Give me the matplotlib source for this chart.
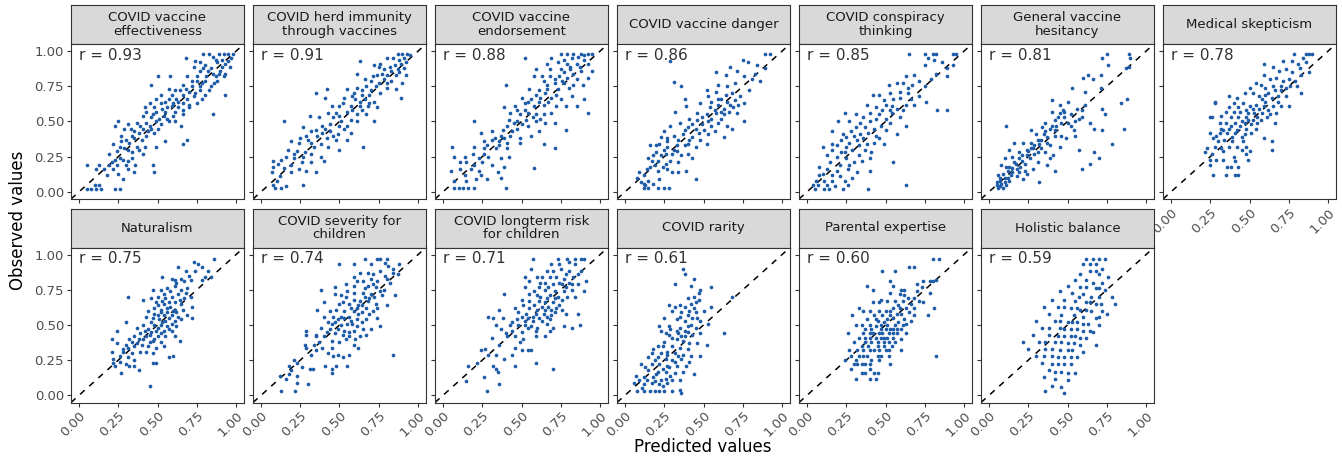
import numpy as np
import matplotlib.pyplot as plt

titles = ["COVID vaccine\neffectiveness", "COVID herd immunity\nthrough vaccines",
          "COVID vaccine\nendorsement", "COVID vaccine danger", "COVID conspiracy\nthinking",
          "General vaccine\nhesitancy", "Medical skepticism", "Naturalism",
          "COVID severity for\nchildren", "COVID longterm risk\nfor children", "COVID rarity",
          "Parental expertise", "Holistic balance"]
r_values = [0.93, 0.91, 0.88, 0.86, 0.85, 0.81, 0.78, 0.75, 0.74, 0.71, 0.61, 0.60, 0.59]
ticks = [0, 0.25, 0.5, 0.75, 1.0]
tick_labels = ["0.00", "0.25", "0.50", "0.75", "1.00"]

# (predicted, observed)
vaccine_effectiveness = [
    (.79,.98),(.83,.98),(.89,.98),(.92,.98),(.95,.98),(.98,.98),(.68,.95),(.74,.93),(.77,.92),(.87,.94),
    (.91,.94),(.97,.95),(.73,.89),(.79,.88),(.84,.88),(.91,.89),(.96,.89),(.77,.86),(.82,.86),(.89,.84),
    (.93,.84),(.50,.82),(.58,.82),(.69,.82),(.75,.82),(.81,.82),(.87,.82),(.92,.82),(.75,.79),(.80,.79),
    (.88,.79),(.46,.76),(.66,.76),(.72,.75),(.77,.75),(.84,.75),(.68,.73),(.57,.73),(.61,.72),(.77,.72),
    (.83,.72),(.93,.69),(.52,.69),(.59,.69),(.66,.69),(.73,.68),(.49,.66),(.57,.66),(.62,.66),(.69,.66),
    (.78,.66),(.45,.63),(.52,.63),(.60,.63),(.66,.63),(.75,.63),(.42,.60),(.48,.60),(.56,.60),(.63,.60),
    (.70,.60),(.43,.57),(.49,.57),(.55,.57),(.61,.57),(.66,.55),(.85,.55),(.41,.54),(.46,.53),(.54,.54),
    (.60,.54),(.25,.50),(.23,.47),(.31,.48),(.37,.49),(.43,.49),(.49,.50),(.57,.50),(.61,.50),(.65,.47),
    (.29,.45),(.35,.43),(.41,.45),(.46,.45),(.50,.45),(.27,.40),(.34,.40),(.43,.40),(.48,.42),(.22,.34),
    (.27,.36),(.32,.35),(.37,.32),(.42,.32),(.49,.32),(.55,.36),(.66,.34),(.69,.37),(.24,.29),(.29,.31),
    (.34,.28),(.41,.27),(.19,.27),(.23,.23),(.28,.23),(.34,.24),(.13,.19),(.19,.19),(.24,.19),(.30,.19),
    (.36,.19),(.47,.19),(.11,.16),(.22,.16),(.31,.16),(.35,.14),(.48,.14),(.05,.19),(.28,.09),(.05,.02),
    (.08,.02),(.11,.02),(.14,.02),(.23,.02),(.26,.02),(.10,.05),(.13,.05),
    (.85,.96),(.88,.92),(.93,.91),(.95,.93),(.80,.90),(.85,.84),(.90,.86),(.72,.79),(.78,.77),(.86,.77),
    (.64,.72),(.70,.71),(.74,.70),(.80,.69),(.55,.64),(.63,.64),(.70,.62),(.53,.59),(.59,.61),(.66,.58),
    (.47,.55),(.51,.52),(.56,.52),(.39,.47),(.45,.47),(.52,.48),(.33,.45),(.38,.42),(.44,.43),(.30,.37),
    (.35,.38),(.40,.37),(.26,.32),(.31,.30),(.38,.30),(.21,.21),(.26,.24),(.31,.22),(.16,.16),(.18,.12),
    (.25,.13)]
herd_immunity = [
    (.87,.98),(.90,.98),(.93,.98),(.95,.97),(.63,.93),(.72,.90),(.76,.91),(.80,.95),(.85,.90),(.89,.91),
    (.92,.92),(.75,.89),(.78,.87),(.82,.89),(.87,.87),(.91,.88),(.61,.84),(.74,.83),(.80,.83),(.86,.83),
    (.92,.83),(.66,.80),(.70,.79),(.78,.80),(.83,.79),(.90,.77),(.55,.73),(.61,.74),(.67,.75),(.73,.75),
    (.80,.74),(.86,.73),(.35,.70),(.42,.73),(.59,.70),(.64,.69),(.69,.69),(.76,.70),(.89,.67),(.41,.67),
    (.53,.67),(.60,.66),(.66,.66),(.72,.64),(.45,.61),(.50,.61),(.57,.61),(.63,.61),(.68,.61),(.74,.60),
    (.48,.56),(.55,.57),(.61,.55),(.67,.55),(.72,.50),(.31,.54),(.37,.53),(.46,.53),(.50,.54),(.57,.51),
    (.61,.50),(.15,.50),(.39,.47),(.44,.48),(.50,.47),(.55,.47),(.27,.46),(.32,.43),(.39,.42),(.44,.43),
    (.49,.41),(.57,.42),(.29,.40),(.36,.40),(.42,.38),(.48,.37),(.55,.37),(.19,.36),(.24,.35),(.32,.35),
    (.38,.34),(.43,.32),(.50,.30),(.65,.32),(.17,.30),(.23,.29),(.28,.28),(.32,.27),(.38,.25),(.08,.22),
    (.13,.23),(.21,.24),(.26,.21),(.32,.21),(.40,.22),(.08,.18),(.19,.19),(.24,.16),(.29,.15),(.35,.14),
    (.07,.14),(.12,.11),(.19,.14),(.27,.05),(.08,.05),(.09,.03),(.13,.03),(.16,.04),
    (.84,.95),(.88,.94),(.91,.95),(.83,.86),(.88,.85),(.77,.84),(.71,.82),(.75,.77),(.80,.77),(.64,.72),
    (.70,.72),(.58,.68),(.63,.64),(.69,.63),(.52,.63),(.58,.58),(.64,.58),(.43,.56),(.51,.50),(.53,.45),
    (.35,.44),(.41,.45),(.46,.40),(.25,.38),(.30,.37),(.34,.32),(.21,.27),(.27,.25),(.16,.25),(.11,.20),
    (.15,.17),(.10,.08)]
vaccine_endorsement = [
    (.75,.98),(.79,.98),(.83,.98),(.88,.98),(.92,.98),(.95,.98),(.52,.95),(.69,.95),(.77,.94),(.82,.95),
    (.90,.94),(.66,.91),(.73,.92),(.79,.91),(.85,.91),(.92,.91),(.59,.87),(.68,.87),(.75,.87),(.81,.87),
    (.88,.86),(.95,.86),(.58,.82),(.63,.82),(.68,.82),(.74,.82),(.79,.81),(.85,.80),(.92,.81),(.40,.76),
    (.64,.79),(.71,.77),(.77,.77),(.83,.76),(.89,.76),(.55,.73),(.61,.72),(.66,.73),(.73,.73),(.50,.67),
    (.56,.66),(.62,.67),(.69,.67),(.75,.66),(.82,.68),(.90,.66),(.39,.60),(.46,.61),(.52,.63),(.58,.61),
    (.64,.62),(.72,.61),(.78,.61),(.85,.61),(.43,.56),(.49,.55),(.54,.56),(.59,.55),(.64,.55),(.69,.56),
    (.92,.56),(.42,.51),(.47,.50),(.53,.51),(.59,.50),(.65,.49),(.71,.49),(.20,.50),(.41,.47),(.47,.45),
    (.54,.47),(.61,.43),(.78,.44),(.24,.42),(.31,.43),(.37,.40),(.43,.40),(.49,.38),(.56,.40),(.26,.36),
    (.31,.37),(.36,.36),(.41,.35),(.49,.35),(.64,.34),(.71,.31),(.06,.32),(.20,.32),(.26,.31),(.34,.31),
    (.41,.31),(.07,.25),(.14,.25),(.23,.24),(.29,.25),(.37,.24),(.42,.25),(.15,.21),(.25,.21),(.31,.19),
    (.39,.18),(.05,.15),(.11,.16),(.18,.16),(.23,.15),(.35,.14),(.58,.17),(.07,.08),(.15,.08),(.21,.09),
    (.28,.09),(.37,.10),(.07,.03),(.10,.03),(.13,.03),(.16,.03),(.20,.03),(.40,.03),
    (.86,.96),(.90,.97),(.81,.89),(.87,.89),(.77,.85),(.83,.84),(.71,.80),(.76,.79),(.66,.76),(.80,.74),
    (.59,.69),(.65,.70),(.72,.69),(.54,.64),(.61,.64),(.67,.64),(.47,.58),(.52,.58),(.57,.53),(.62,.52),
    (.45,.49),(.50,.48),(.38,.44),(.44,.43),(.33,.38),(.39,.38),(.28,.33),(.36,.33),(.19,.27),(.26,.27),
    (.11,.21),(.20,.19),(.14,.12),(.24,.12)]
vaccine_danger = [
    (.89,.98),(.92,.98),(.75,.94),(.29,.93),(.78,.92),(.67,.89),(.84,.90),(.89,.88),(.58,.85),(.64,.83),
    (.71,.86),(.76,.82),(.81,.80),(.86,.79),(.31,.78),(.36,.75),(.59,.76),(.65,.75),(.70,.77),(.52,.72),
    (.58,.71),(.64,.69),(.68,.70),(.38,.66),(.53,.68),(.59,.66),(.65,.64),(.70,.65),(.76,.63),(.48,.63),
    (.54,.60),(.59,.62),(.63,.59),(.69,.60),(.39,.61),(.32,.57),(.46,.56),(.52,.55),(.58,.56),(.63,.55),
    (.71,.56),(.76,.50),(.41,.52),(.46,.51),(.53,.50),(.59,.49),(.65,.47),(.35,.49),(.29,.47),(.40,.46),
    (.45,.45),(.50,.44),(.57,.43),(.68,.45),(.63,.39),(.25,.43),(.31,.40),(.37,.41),(.43,.39),(.48,.37),
    (.52,.34),(.23,.39),(.16,.33),(.22,.34),(.27,.32),(.33,.33),(.40,.34),(.45,.32),(.20,.28),(.26,.27),
    (.30,.27),(.36,.26),(.40,.27),(.15,.24),(.21,.22),(.29,.22),(.34,.21),(.43,.24),(.19,.19),(.24,.18),
    (.30,.14),(.34,.14),(.39,.15),(.09,.14),(.12,.12),(.15,.08),(.22,.09),(.45,.09),(.12,.06),(.12,.03),
    (.15,.03),(.21,.03),(.25,.03),(.28,.03),(.13,.05),(.08,.10),(.38,.33),(.16,.18),(.27,.36),
    (.55,.64),(.61,.66),(.67,.62),(.72,.62),(.57,.58),(.61,.57),(.66,.57),(.49,.53),(.55,.52),(.61,.52),
    (.43,.48),(.49,.48),(.55,.47),(.38,.44),(.47,.42),(.53,.41),(.27,.38),(.34,.37),(.41,.37),(.20,.33),
    (.25,.30),(.31,.30),(.18,.26),(.23,.26),(.33,.29),(.17,.22),(.26,.20),(.14,.16),(.21,.15),(.27,.16),
    (.10,.07),(.18,.06),(.73,.68),(.79,.72),(.83,.84)]
conspiracy_thinking = [
    (.65,.98),(.75,.98),(.80,.98),(.82,.98),(.93,.98),(.95,.98),(.77,.95),(.81,.94),(.75,.90),(.89,.88),
    (.93,.90),(.82,.84),(.89,.82),(.63,.82),(.68,.83),(.57,.77),(.61,.77),(.67,.76),(.75,.75),(.79,.80),
    (.52,.76),(.46,.69),(.53,.70),(.59,.71),(.64,.70),(.71,.68),(.42,.69),(.76,.64),(.49,.65),(.55,.66),
    (.38,.62),(.44,.60),(.50,.62),(.57,.59),(.63,.62),(.68,.62),(.24,.56),(.31,.55),(.40,.56),(.46,.55),
    (.54,.56),(.59,.53),(.83,.58),(.89,.58),(.20,.50),(.27,.50),(.34,.49),(.40,.50),(.47,.47),(.53,.49),
    (.63,.47),(.16,.43),(.23,.41),(.28,.43),(.34,.41),(.39,.42),(.44,.40),(.57,.41),(.22,.37),(.27,.35),
    (.32,.37),(.38,.34),(.43,.35),(.49,.34),(.10,.32),(.16,.30),(.22,.28),(.29,.30),(.37,.30),(.41,.28),
    (.19,.25),(.25,.24),(.30,.21),(.35,.22),(.40,.24),(.55,.21),(.08,.18),(.13,.16),(.19,.15),(.26,.16),
    (.32,.14),(.40,.15),(.10,.13),(.16,.12),(.06,.08),(.11,.08),(.16,.08),(.24,.08),(.29,.10),(.04,.05),
    (.07,.05),(.11,.02),(.14,.02),(.23,.02),(.39,.02),(.63,.05),(.05,.02),(.16,.34),(.53,.58),
    (.86,.92),(.71,.79),(.64,.74),(.59,.67),(.66,.66),(.48,.58),(.54,.61),(.61,.58),(.36,.53),(.44,.52),
    (.50,.52),(.31,.46),(.37,.46),(.43,.45),(.50,.44),(.25,.39),(.30,.40),(.36,.38),(.46,.38),(.19,.33),
    (.25,.32),(.33,.33),(.13,.26),(.24,.28),(.33,.26),(.15,.21),(.21,.19),(.27,.19),(.08,.12),(.21,.11),
    (.13,.05),(.18,.04),(.26,.05)]
vaccine_hesitancy = [
    (.75,.98),(.89,.98),(.72,.95),(.90,.95),(.76,.90),(.87,.88),(.89,.89),(.63,.83),(.71,.83),(.60,.81),
    (.66,.80),(.53,.74),(.61,.71),(.71,.74),(.40,.65),(.50,.64),(.84,.63),(.88,.66),(.56,.59),(.59,.58),
    (.72,.59),(.74,.55),(.40,.57),(.45,.56),(.48,.53),(.42,.51),(.46,.49),(.52,.47),(.11,.47),(.34,.46),
    (.39,.45),(.64,.49),(.59,.53),(.67,.45),(.72,.44),(.86,.45),(.27,.44),(.30,.41),(.37,.39),(.42,.40),
    (.49,.38),(.55,.40),(.78,.34),(.16,.35),(.22,.35),(.27,.35),(.32,.34),(.39,.33),(.45,.32),(.57,.30),
    (.13,.30),(.19,.28),(.24,.30),(.29,.27),(.36,.28),(.41,.26),(.67,.28),(.70,.24),(.10,.24),(.15,.25),
    (.21,.22),(.26,.24),(.31,.21),(.37,.19),(.64,.20),(.08,.19),(.13,.18),(.18,.16),(.23,.15),(.28,.16),
    (.42,.15),(.59,.16),(.06,.12),(.10,.10),(.14,.12),(.22,.09),(.32,.07),(.05,.07),(.08,.06),(.11,.05),
    (.06,.03),(.09,.03),(.19,.14),(.45,.62),(.57,.52),(.07,.08),(.13,.08),(.05,.05),(.07,.04),(.10,.07),
    (.12,.10),(.15,.14),(.17,.20),(.20,.18),(.24,.26),(.28,.31),(.33,.37),(.36,.43),(.43,.47),(.47,.58),
    (.07,.10),(.09,.13),(.12,.15),(.15,.17),(.16,.21),(.19,.24),(.21,.26),(.23,.20),(.25,.29),(.27,.31),
    (.29,.33),(.31,.37),(.33,.31),(.35,.41),(.37,.35),(.40,.47),(.42,.44),(.44,.53),(.46,.40),(.48,.57),
    (.50,.49),(.52,.55),(.54,.44),(.36,.49),(.31,.28),(.18,.11),(.11,.18),(.24,.13),(.39,.24),(.61,.62),
    (.55,.50)]
medical_skepticism = [
    (.78,.98),(.86,.98),(.88,.98),(.90,.98),(.84,.95),(.71,.93),(.77,.93),(.81,.91),(.86,.92),(.88,.85),
    (.59,.91),(.65,.89),(.69,.86),(.73,.87),(.77,.85),(.83,.83),(.59,.83),(.63,.80),(.67,.81),(.71,.79),
    (.75,.80),(.54,.77),(.57,.76),(.60,.74),(.65,.75),(.70,.75),(.76,.75),(.80,.75),(.83,.70),(.50,.74),
    (.47,.70),(.52,.70),(.56,.68),(.60,.69),(.64,.67),(.68,.68),(.73,.68),(.37,.68),(.42,.67),(.28,.63),
    (.40,.63),(.46,.63),(.50,.61),(.54,.62),(.59,.61),(.65,.61),(.70,.61),(.75,.61),(.35,.57),(.40,.57),
    (.44,.57),(.49,.56),(.53,.56),(.58,.56),(.63,.55),(.67,.56),(.26,.53),(.32,.54),(.38,.53),(.43,.53),
    (.48,.53),(.52,.51),(.57,.51),(.66,.49),(.35,.49),(.41,.49),(.47,.49),(.51,.48),(.32,.45),(.37,.45),
    (.42,.44),(.48,.45),(.54,.45),(.25,.42),(.31,.42),(.36,.42),(.41,.42),(.47,.41),(.51,.42),(.59,.38),
    (.64,.36),(.27,.38),(.30,.36),(.34,.37),(.39,.36),(.46,.36),(.64,.30),(.28,.32),(.32,.31),(.37,.32),
    (.42,.32),(.48,.32),(.50,.29),(.22,.28),(.26,.27),(.40,.25),(.48,.27),(.25,.23),(.29,.23),(.33,.23),
    (.41,.22),(.49,.23),(.25,.19),(.36,.18),(.38,.18),(.43,.18),(.27,.12),(.35,.12),(.41,.12),(.43,.12),
    (.28,.64),(.25,.53),
    (.48,.58),(.52,.59),(.56,.59),(.60,.64),(.62,.70),(.66,.72),(.70,.72),(.58,.66),(.45,.50),(.49,.51),
    (.55,.53),(.61,.53),(.44,.47),(.38,.47),(.33,.44),(.45,.39),(.39,.39),(.29,.40),(.55,.49),(.62,.58),
    (.68,.64),(.73,.74),(.79,.79),(.82,.88),(.43,.60),(.37,.60),(.31,.49),(.23,.31),(.33,.29),(.45,.30)]
naturalism = [
    (.86,.97),(.73,.95),(.76,.93),(.78,.91),(.74,.88),(.82,.88),(.84,.84),(.63,.91),(.68,.88),(.70,.85),
    (.65,.83),(.67,.81),(.71,.82),(.53,.84),(.59,.83),(.61,.82),(.78,.82),(.80,.84),(.47,.75),(.52,.75),
    (.56,.76),(.61,.78),(.65,.75),(.69,.76),(.31,.70),(.41,.68),(.46,.69),(.50,.70),(.54,.72),(.59,.70),
    (.63,.72),(.67,.69),(.71,.70),(.49,.66),(.53,.67),(.57,.66),(.61,.66),(.65,.65),(.72,.63),(.48,.62),
    (.52,.61),(.56,.62),(.61,.61),(.66,.61),(.44,.60),(.50,.57),(.54,.57),(.59,.57),(.63,.56),(.69,.57),
    (.47,.55),(.51,.54),(.55,.53),(.61,.53),(.65,.54),(.30,.52),(.43,.56),(.41,.50),(.48,.50),(.52,.50),
    (.56,.49),(.62,.49),(.72,.55),(.37,.48),(.44,.47),(.49,.46),(.54,.46),(.59,.46),(.24,.46),(.39,.44),
    (.45,.43),(.50,.42),(.55,.42),(.61,.42),(.64,.39),(.32,.40),(.35,.42),(.41,.40),(.47,.39),(.52,.38),
    (.21,.40),(.24,.37),(.30,.36),(.37,.37),(.44,.35),(.49,.34),(.54,.35),(.31,.34),(.35,.35),(.43,.31),
    (.47,.30),(.21,.31),(.28,.31),(.34,.30),(.39,.31),(.60,.28),(.57,.27),(.22,.26),(.26,.28),(.31,.27),
    (.35,.25),(.22,.23),(.30,.22),(.35,.21),(.47,.23),(.49,.23),(.23,.21),(.27,.16),(.38,.18),(.45,.07),
    (.32,.21),
    (.50,.64),(.54,.65),(.58,.63),(.52,.59),(.56,.59),(.60,.60),(.48,.58),(.57,.55),(.53,.52),(.59,.51),
    (.46,.52),(.50,.48),(.57,.47),(.46,.45),(.52,.44),(.43,.42),(.48,.40),(.40,.36),(.45,.38),(.62,.59),
    (.64,.68),(.58,.74),(.62,.80),(.68,.73),(.55,.69),(.42,.46),(.38,.40),(.34,.38),(.28,.33),(.26,.24)]
severity_children = [
    (.66,.97),(.74,.97),(.76,.97),(.80,.97),(.50,.93),(.59,.93),(.70,.93),(.79,.94),(.88,.93),(.81,.92),
    (.63,.87),(.68,.87),(.71,.86),(.76,.88),(.79,.85),(.84,.87),(.87,.86),(.59,.84),(.61,.81),(.65,.81),
    (.70,.83),(.74,.81),(.80,.83),(.54,.79),(.59,.78),(.68,.78),(.73,.77),(.78,.75),(.47,.77),(.38,.75),
    (.59,.73),(.65,.73),(.70,.72),(.76,.74),(.85,.71),(.47,.72),(.51,.71),(.54,.70),(.59,.68),(.63,.67),
    (.68,.67),(.73,.65),(.80,.64),(.40,.66),(.52,.66),(.56,.65),(.62,.64),(.67,.62),(.36,.61),(.48,.61),
    (.53,.60),(.59,.60),(.64,.59),(.71,.60),(.40,.56),(.46,.56),(.51,.56),(.56,.56),(.61,.54),(.67,.54),
    (.74,.55),(.43,.52),(.47,.52),(.51,.50),(.55,.51),(.61,.49),(.38,.48),(.44,.47),(.49,.47),(.53,.46),
    (.59,.46),(.65,.47),(.70,.47),(.76,.49),(.47,.44),(.52,.43),(.56,.42),(.63,.42),(.67,.43),(.35,.42),
    (.40,.42),(.29,.43),(.45,.39),(.50,.38),(.54,.40),(.59,.36),(.62,.34),(.28,.36),(.34,.36),(.39,.34),
    (.45,.34),(.29,.34),(.35,.32),(.43,.30),(.49,.29),(.56,.29),(.84,.29),(.21,.25),(.46,.28),(.52,.27),
    (.18,.21),(.41,.21),(.48,.21),(.55,.21),(.23,.23),(.31,.19),(.33,.19),(.45,.19),(.45,.16),(.12,.14),
    (.18,.15),(.23,.14),(.16,.12),(.23,.09),(.30,.08),(.13,.03),(.22,.03),(.29,.46),(.35,.43),
    (.57,.62),(.61,.62),(.64,.64),(.69,.69),(.72,.70),(.66,.70),(.62,.58),(.57,.53),(.53,.55),(.49,.54),
    (.45,.51),(.58,.51),(.64,.52),(.69,.58),(.74,.62),(.77,.71),(.82,.80),(.84,.90),(.71,.79),(.66,.76),
    (.55,.74),(.50,.65),(.44,.60),(.42,.45),(.56,.45),(.60,.40),(.37,.38),(.32,.29),(.26,.20),(.19,.18)]
longterm_risk = [
    (.57,.97),(.73,.97),(.79,.97),(.84,.97),(.88,.97),(.90,.97),(.80,.95),(.69,.93),(.74,.93),(.84,.93),
    (.56,.90),(.66,.88),(.70,.88),(.75,.90),(.80,.88),(.88,.88),(.52,.84),(.60,.84),(.63,.84),(.68,.84),
    (.72,.84),(.77,.83),(.83,.84),(.91,.81),(.55,.81),(.65,.80),(.70,.79),(.76,.79),(.80,.80),(.86,.79),
    (.52,.77),(.61,.77),(.65,.75),(.71,.74),(.77,.74),(.82,.75),(.90,.74),(.55,.72),(.60,.71),(.68,.71),
    (.73,.70),(.79,.70),(.84,.70),(.39,.72),(.50,.68),(.55,.67),(.61,.67),(.65,.66),(.70,.66),(.74,.64),
    (.51,.64),(.55,.62),(.60,.61),(.65,.61),(.69,.61),(.76,.61),(.46,.62),(.36,.61),(.48,.59),(.53,.58),
    (.59,.58),(.64,.58),(.69,.57),(.78,.58),(.86,.58),(.32,.55),(.38,.55),(.47,.54),(.52,.53),(.57,.53),
    (.63,.53),(.68,.54),(.34,.50),(.43,.50),(.48,.50),(.52,.50),(.56,.49),(.70,.48),(.77,.49),(.82,.48),
    (.87,.50),(.37,.47),(.44,.46),(.50,.45),(.59,.46),(.65,.42),(.68,.46),(.41,.42),(.46,.42),(.59,.42),
    (.51,.40),(.36,.36),(.46,.34),(.24,.32),(.29,.29),(.34,.29),(.44,.29),(.50,.32),(.54,.32),(.56,.32),
    (.39,.26),(.59,.23),(.16,.21),(.22,.23),(.32,.21),(.46,.21),(.34,.19),(.35,.17),(.26,.13),(.70,.19),
    (.15,.10),(.36,.08),(.28,.03),(.29,.56),
    (.62,.70),(.66,.69),(.71,.69),(.76,.68),(.58,.64),(.63,.63),(.67,.63),(.72,.62),(.57,.56),(.61,.55),
    (.66,.56),(.71,.59),(.50,.56),(.54,.55),(.44,.52),(.60,.48),(.66,.51),(.74,.80),(.78,.77),(.82,.79),
    (.86,.86),(.78,.86),(.62,.80),(.58,.74),(.67,.77),(.54,.48),(.40,.44),(.49,.38),(.31,.41),(.27,.33)]
covid_rarity = [
    (.37,.90),(.38,.86),(.32,.79),(.44,.83),(.42,.78),(.55,.77),(.48,.75),(.47,.73),(.44,.70),(.40,.69),
    (.68,.70),(.28,.64),(.32,.63),(.35,.64),(.38,.63),(.42,.65),(.45,.66),(.55,.63),(.30,.60),(.36,.59),
    (.40,.57),(.45,.59),(.25,.55),(.33,.54),(.38,.53),(.43,.55),(.48,.53),(.22,.49),(.28,.49),(.35,.48),
    (.40,.49),(.45,.48),(.53,.51),(.63,.44),(.23,.46),(.28,.43),(.34,.44),(.38,.42),(.43,.43),(.48,.44),
    (.33,.40),(.37,.39),(.41,.37),(.46,.37),(.52,.36),(.24,.35),(.30,.35),(.35,.34),(.40,.33),(.17,.30),
    (.27,.31),(.32,.30),(.37,.29),(.42,.28),(.48,.28),(.21,.27),(.26,.26),(.32,.24),(.36,.26),(.41,.24),
    (.10,.22),(.17,.22),(.22,.22),(.27,.21),(.33,.21),(.39,.21),(.44,.15),(.15,.18),(.21,.17),(.26,.17),
    (.32,.16),(.37,.17),(.07,.14),(.12,.13),(.18,.13),(.23,.11),(.30,.11),(.35,.11),(.06,.09),(.12,.08),
    (.17,.09),(.22,.08),(.27,.09),(.08,.03),(.12,.03),(.16,.03),(.19,.03),(.22,.03),(.25,.03),(.35,.04),
    (.36,.02),(.11,.05),(.24,.07),(.33,.46),
    (.20,.15),(.24,.19),(.28,.20),(.30,.25),(.34,.28),(.27,.29),(.23,.30),(.19,.25),(.25,.38),(.30,.41),
    (.36,.42),(.40,.45),(.42,.50),(.46,.55),(.44,.62),(.47,.68),(.50,.60),(.41,.60),(.35,.56),(.29,.47),
    (.26,.44),(.21,.35),(.18,.33),(.15,.27),(.13,.20),(.14,.11),(.19,.10),(.26,.12),(.29,.14),(.30,.03),
    (.09,.11),(.38,.46)]
parental_expertise = [
    (.80,.97),(.84,.97),(.65,.91),(.68,.91),(.48,.88),(.56,.88),(.74,.81),(.78,.81),(.80,.81),(.82,.82),
    (.53,.81),(.38,.78),(.55,.78),(.70,.79),(.42,.75),(.60,.75),(.62,.75),(.70,.74),(.73,.77),(.78,.73),
    (.59,.72),(.53,.73),(.47,.68),(.51,.67),(.56,.67),(.61,.67),(.64,.69),(.68,.69),(.71,.67),(.74,.66),
    (.42,.66),(.46,.66),(.55,.62),(.59,.62),(.63,.62),(.68,.62),(.81,.62),(.33,.62),(.36,.60),(.40,.60),
    (.46,.60),(.50,.60),(.53,.60),(.65,.59),(.68,.57),(.77,.57),(.29,.57),(.38,.54),(.44,.54),(.51,.54),
    (.55,.55),(.62,.54),(.66,.53),(.31,.50),(.35,.50),(.40,.50),(.47,.50),(.51,.50),(.56,.50),(.61,.50),
    (.41,.47),(.47,.47),(.50,.47),(.55,.47),(.57,.47),(.26,.44),(.36,.44),(.40,.44),(.48,.44),(.52,.44),
    (.57,.44),(.63,.44),(.33,.41),(.37,.41),(.44,.41),(.47,.41),(.51,.41),(.55,.41),(.30,.38),(.37,.38),
    (.49,.38),(.52,.38),(.56,.38),(.35,.35),(.39,.35),(.45,.35),(.54,.35),(.60,.32),(.27,.32),(.32,.32),
    (.36,.32),(.40,.32),(.46,.32),(.50,.32),(.52,.32),(.28,.28),(.33,.28),(.38,.28),(.45,.28),(.47,.28),
    (.52,.28),(.82,.28),(.24,.25),(.41,.25),(.30,.22),(.32,.22),(.37,.22),(.40,.22),(.53,.22),(.35,.16),
    (.37,.16),(.43,.16),(.45,.16),(.31,.12),(.40,.12),(.44,.12),(.28,.19),(.40,.19),
    (.43,.57),(.48,.57),(.53,.57),(.57,.58),(.60,.58),(.45,.53),(.49,.52),(.58,.52),(.63,.51),(.37,.47),
    (.44,.49),(.53,.47),(.60,.47),(.42,.44),(.46,.44),(.55,.44),(.40,.41),(.49,.41),(.41,.38),(.45,.38),
    (.60,.40),(.58,.64),(.66,.65),(.62,.71),(.49,.35),(.43,.32),(.36,.28),(.31,.25),(.46,.25),(.35,.22)]
holistic_balance = [
    (.62,.97),(.66,.97),(.70,.97),(.74,.97),(.60,.93),(.68,.93),(.72,.90),(.64,.88),(.58,.86),(.70,.86),
    (.76,.84),(.55,.82),(.62,.82),(.66,.80),(.72,.80),(.50,.78),(.58,.77),(.68,.76),(.74,.75),(.45,.74),
    (.53,.73),(.60,.72),(.65,.70),(.70,.70),(.78,.70),(.40,.68),(.48,.68),(.55,.67),(.62,.66),(.68,.65),
    (.35,.63),(.44,.63),(.52,.62),(.58,.61),(.65,.60),(.72,.60),(.38,.58),(.46,.57),(.54,.57),(.60,.56),
    (.68,.55),(.30,.53),(.42,.53),(.50,.52),(.56,.52),(.63,.51),(.70,.50),(.34,.48),(.45,.48),(.52,.47),
    (.60,.46),(.66,.45),(.28,.43),(.38,.43),(.48,.42),(.55,.42),(.62,.41),(.32,.38),(.42,.38),(.50,.37),
    (.58,.36),(.68,.36),(.25,.33),(.36,.33),(.45,.32),(.53,.32),(.60,.31),(.30,.28),(.40,.28),(.48,.27),
    (.56,.27),(.34,.23),(.44,.22),(.52,.22),(.38,.18),(.46,.17),(.55,.16),(.35,.13),(.42,.12),(.50,.11),
    (.40,.07),(.46,.06),(.36,.03),(.48,.02),(.22,.38),(.75,.58),(.80,.65),
    (.64,.93),(.68,.88),(.62,.77),(.70,.76),(.57,.70),(.64,.66),(.71,.65),(.48,.63),(.56,.62),(.62,.61),
    (.70,.56),(.45,.53),(.53,.52),(.60,.51),(.38,.48),(.48,.47),(.56,.47),(.64,.46),(.44,.42),(.52,.42),
    (.58,.41),(.36,.38),(.46,.38),(.54,.37),(.40,.33),(.50,.32),(.35,.28),(.44,.27),(.52,.27),(.40,.22),
    (.48,.22),(.42,.17),(.50,.16)]

series = [vaccine_effectiveness, herd_immunity, vaccine_endorsement, vaccine_danger,
          conspiracy_thinking, vaccine_hesitancy, medical_skepticism, naturalism,
          severity_children, longterm_risk, covid_rarity, parental_expertise, holistic_balance]

W, H = 1342, 457
fig = plt.figure(figsize=(W / 100, H / 100), dpi=100)
edge = '#333333'


def box(left, top, width, height):
    # pixel box -> figure fraction
    return [left / W, 1 - (top + height) / H, width / W, height / H]


for i, (title, pts, r) in enumerate(zip(titles, series, r_values)):
    row, col = divmod(i, 7)
    left = 71 + col * 182
    strip_top = 5 if row == 0 else 208.5

    # strip
    sax = fig.add_axes(box(left, strip_top, 173, 39))
    sax.set_facecolor('#d9d9d9')
    sax.set_xticks([])
    sax.set_yticks([])
    for s in sax.spines.values():
        s.set_color(edge)
        s.set_linewidth(0.8)
    sax.text(0.5, 0.5, title, ha='center', va='center', fontsize=9.5,
             color='#1a1a1a', linespacing=1.05, transform=sax.transAxes)

    # panel
    ax = fig.add_axes(box(left, strip_top + 39, 173, 155))
    xs = [p[0] for p in pts]
    ys = [p[1] for p in pts]
    ax.scatter(xs, ys, s=7, color='#1f5ca8', linewidths=0, zorder=3)
    ax.axline((0, 0), (1, 1), color='black', lw=1.1, linestyle=(0, (4, 4)), zorder=2)
    ax.set_xlim(-0.05, 1.05)
    ax.set_ylim(-0.05, 1.05)
    ax.text(0, 0.97, f"r = {r:.2f}", ha='left', va='center', fontsize=11, color='#333333')
    for s in ax.spines.values():
        s.set_color(edge)
        s.set_linewidth(0.8)
    ax.set_xticks(ticks)
    ax.set_yticks(ticks)
    ax.tick_params(length=3, width=0.8, color=edge, labelsize=9.5, labelcolor='#4d4d4d', pad=2)
    if col == 0:
        ax.set_yticklabels(tick_labels)
    else:
        ax.set_yticklabels([])
    if row == 1 or col == 6:
        ax.set_xticklabels(tick_labels, rotation=45, ha='right', rotation_mode='anchor')
    else:
        ax.set_xticklabels([])

fig.text(703 / W, 1 - 447 / H, "Predicted values", ha='center', va='center', fontsize=12)
fig.text(18 / W, 1 - 220 / H, "Observed values", ha='center', va='center', fontsize=12,
         rotation=90)

fig.savefig('out.png', dpi=100)
